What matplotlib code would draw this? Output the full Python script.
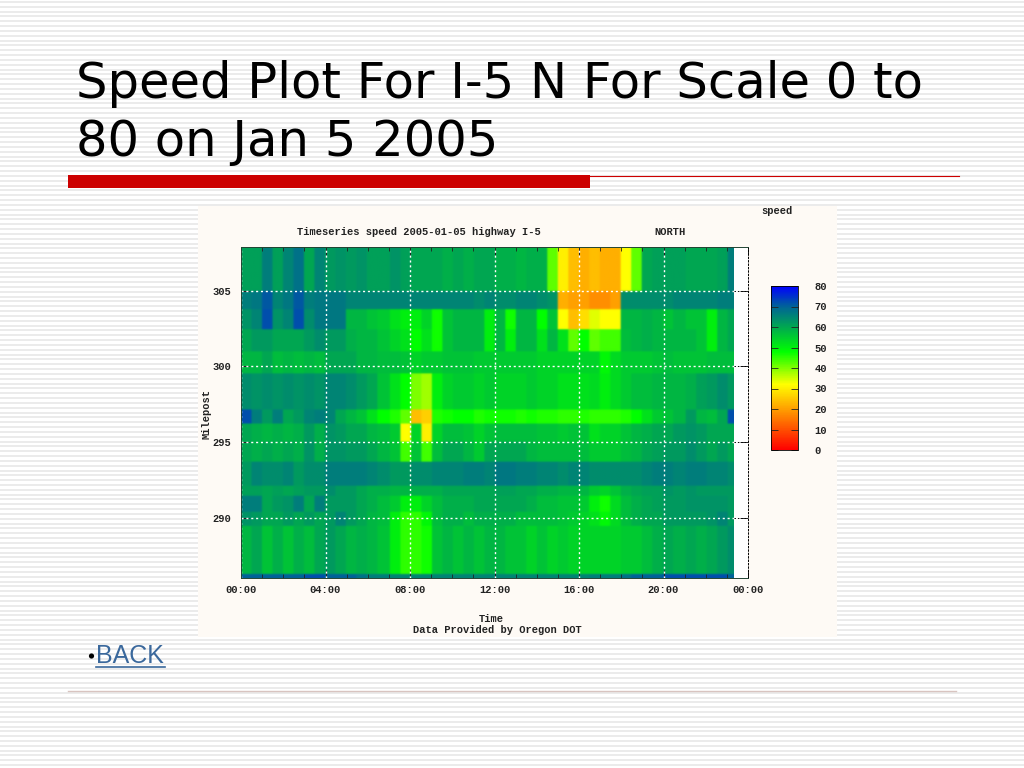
import numpy as np
import matplotlib
matplotlib.use('Agg')
import matplotlib.pyplot as plt
from matplotlib.colors import LinearSegmentedColormap
from matplotlib.patches import Rectangle, Circle

OUTPUT_FILE = 'out.png'

TITLE_LINES = ['Speed Plot For I-5 N For Scale 0 to', '80 on Jan 5 2005']
TIME_LABELS = ['00:00', '04:00', '08:00', '12:00', '16:00', '20:00', '00:00']
TIME_TICKS = [0, 4, 8, 12, 16, 20, 24]
MILE_TICKS = [305, 300, 295, 290]
SCALE_TICKS = [0, 10, 20, 30, 40, 50, 60, 70, 80]

# half hour columns, the last one stops at 23:20
TIME_EDGES = [i * 0.5 for i in range(47)] + [23.33]
MILE_EDGES = [307.9, 305.0, 303.8, 302.4, 301.0, 299.6, 297.2, 296.2, 295.0,
              293.7, 292.1, 291.4, 290.4, 289.5, 286.2, 286.0]

row_0 = [61, 61, 66, 61, 65, 68, 60, 65, 62, 63, 62, 63, 61, 61, 63, 61, 60, 60, 60, 59, 60, 59, 60, 60,
         59, 59, 58, 59, 59, 42, 30, 24, 22, 24, 22, 22, 32, 42, 60, 61, 61, 61, 60, 60, 60, 61, 66]
row_1 = [66, 67, 71, 65, 67, 71, 66, 67, 67, 67, 65, 65, 65, 65, 65, 65, 65, 65, 65, 65, 65, 65, 64, 65,
         64, 64, 65, 65, 64, 63, 22, 20, 20, 18, 18, 20, 64, 64, 64, 64, 64, 65, 65, 65, 65, 66, 66]
row_2 = [63, 65, 72, 63, 65, 72, 64, 67, 67, 67, 58, 58, 56, 55, 52, 50, 50, 54, 47, 56, 58, 58, 58, 50,
         58, 47, 58, 58, 48, 56, 32, 24, 28, 34, 32, 32, 58, 58, 59, 58, 56, 58, 56, 56, 50, 58, 60]
row_3 = [60, 62, 62, 60, 60, 60, 62, 64, 62, 62, 59, 58, 58, 56, 54, 52, 48, 52, 47, 56, 58, 58, 58, 50,
         58, 50, 58, 58, 52, 58, 52, 42, 48, 42, 44, 44, 57, 58, 59, 58, 58, 58, 58, 56, 50, 58, 60]
row_4 = [58, 58, 60, 57, 58, 57, 58, 57, 60, 60, 60, 58, 58, 57, 57, 56, 54, 55, 55, 56, 56, 56, 55, 55,
         55, 55, 55, 55, 54, 54, 54, 54, 54, 54, 49, 53, 55, 55, 55, 56, 57, 56, 56, 56, 57, 57, 57]
row_5 = [64, 63, 64, 63, 64, 63, 64, 63, 65, 65, 64, 62, 60, 56, 52, 48, 40, 38, 50, 54, 55, 55, 54, 55,
         54, 54, 54, 55, 54, 54, 52, 52, 52, 53, 50, 53, 55, 57, 57, 58, 58, 58, 59, 61, 62, 64, 62]
row_6 = [72, 66, 62, 66, 60, 62, 65, 66, 65, 60, 58, 56, 52, 48, 46, 42, 24, 26, 46, 47, 48, 48, 46, 47,
         47, 47, 46, 47, 46, 46, 45, 45, 46, 45, 45, 45, 46, 48, 52, 55, 56, 58, 62, 58, 57, 60, 72]
row_7 = [60, 59, 58, 59, 58, 59, 62, 59, 63, 62, 60, 60, 58, 57, 55, 32, 54, 30, 54, 57, 57, 56, 54, 56,
         57, 57, 57, 57, 56, 56, 55, 56, 56, 52, 54, 54, 56, 58, 59, 60, 60, 62, 63, 62, 60, 60, 60]
row_8 = [60, 59, 60, 59, 60, 59, 63, 59, 63, 63, 62, 62, 60, 58, 56, 44, 56, 44, 57, 60, 60, 58, 55, 60,
         60, 60, 60, 58, 57, 57, 57, 57, 57, 55, 55, 55, 57, 58, 60, 61, 62, 62, 64, 62, 60, 62, 60]
row_9 = [62, 65, 64, 64, 65, 62, 64, 64, 66, 66, 66, 66, 65, 64, 62, 62, 64, 64, 65, 65, 65, 66, 66, 65,
         67, 67, 66, 66, 65, 65, 64, 65, 65, 64, 64, 64, 64, 64, 65, 66, 66, 65, 66, 66, 65, 65, 64]
row_10 = [61, 61, 60, 61, 60, 61, 62, 62, 64, 62, 62, 60, 59, 59, 58, 58, 59, 59, 59, 60, 60, 60, 60, 60,
          61, 61, 60, 60, 59, 59, 58, 58, 58, 55, 54, 56, 59, 60, 61, 61, 63, 62, 63, 62, 62, 62, 62]
row_11 = [66, 66, 60, 62, 63, 66, 60, 66, 62, 62, 62, 60, 59, 57, 55, 50, 50, 54, 57, 59, 59, 59, 60, 60,
          60, 60, 60, 59, 57, 57, 56, 56, 55, 50, 47, 53, 57, 59, 60, 61, 62, 62, 63, 63, 63, 63, 62]
row_12 = [63, 62, 60, 60, 62, 60, 62, 60, 62, 65, 62, 60, 58, 57, 50, 45, 45, 49, 57, 59, 59, 57, 59, 59,
          59, 59, 57, 57, 57, 57, 56, 55, 54, 52, 49, 53, 57, 59, 60, 60, 62, 62, 62, 62, 63, 65, 62]
row_13 = [58, 60, 56, 59, 56, 59, 57, 60, 62, 60, 58, 59, 58, 56, 50, 45, 45, 47, 56, 58, 56, 58, 56, 58,
          58, 56, 56, 54, 56, 54, 55, 54, 54, 54, 54, 54, 55, 55, 57, 59, 60, 59, 60, 59, 60, 62, 64]
row_14 = [70, 70, 70, 70, 70, 70, 72, 72, 70, 70, 70, 68, 66, 66, 65, 65, 65, 65, 65, 65, 65, 65, 65, 65,
          65, 65, 65, 65, 65, 65, 65, 65, 65, 66, 66, 66, 68, 70, 70, 70, 72, 72, 72, 72, 72, 72, 70]

speed_rows = [row_0, row_1, row_2, row_3, row_4, row_5, row_6, row_7, row_8, row_9,
              row_10, row_11, row_12, row_13, row_14]

BG_IMAGE = '#fefaf5'
MONO = {'family': 'Liberation Mono', 'weight': 'bold', 'color': '#222222'}
MONO_SIZE = 7.5
DOTS = (0, (1.5, 2))


def make_axes_box(x0, y0, x1, y1):
    # pixel box of the 1024x768 slide to figure fractions
    return [x0 / 1024, 1 - y1 / 768, (x1 - x0) / 1024, (y1 - y0) / 768]


def draw_slide(fig):
    bg = fig.add_axes([0, 0, 1, 1])
    bg.set_xlim(0, 1024)
    bg.set_ylim(768, 0)
    bg.axis('off')

    # striped slide background
    bg.hlines(np.arange(2, 768, 4.83), 0, 1024, color='#e6e6e6', lw=1.1, zorder=0)

    bg.text(76, 98, TITLE_LINES[0], fontsize=35.7, family='DejaVu Sans', color='black', va='baseline')
    bg.text(76, 156, TITLE_LINES[1], fontsize=35.7, family='DejaVu Sans', color='black', va='baseline')

    bg.add_patch(Rectangle((68, 175), 522, 13, color='#cc0000', lw=0, zorder=2))
    bg.plot([590, 959], [175.5, 175.5], color='#cc0000', lw=0.8, zorder=2)
    bg.plot([68, 956], [691, 691], color='#d8c4c0', lw=1, zorder=2)

    bg.add_patch(Rectangle((198, 206), 639, 431, color=BG_IMAGE, lw=0, zorder=1))

    bg.add_patch(Circle((91.5, 656), 2.6, color='black', lw=0, zorder=3))
    bg.text(96, 656, 'BACK', fontsize=18, family='Liberation Sans', color='#3a689c', va='center', zorder=3)
    bg.plot([96, 165], [667, 667], color='#3a689c', lw=1.2, zorder=3)

    bg.text(418.5, 232, 'Timeseries speed 2005-01-05 highway I-5', fontsize=MONO_SIZE, ha='center', va='center', zorder=3, **MONO)
    bg.text(670, 232, 'NORTH', fontsize=MONO_SIZE, ha='center', va='center', zorder=3, **MONO)
    bg.text(777, 211, 'speed', fontsize=MONO_SIZE, ha='center', va='center', zorder=3, **MONO)
    bg.text(207, 414, 'Milepost', fontsize=MONO_SIZE, rotation=90, ha='center', va='center', zorder=3, **MONO)
    bg.text(491, 619, 'Time', fontsize=MONO_SIZE, ha='center', va='center', zorder=3, **MONO)
    bg.text(497, 630, 'Data Provided by Oregon DOT', fontsize=MONO_SIZE, ha='center', va='center', zorder=3, **MONO)


def fine_grid():
    # repeat the cells onto a small regular grid so imshow can soften the edges
    speeds = np.array(speed_rows)
    xs = (np.arange(235) + 0.5) * TIME_EDGES[-1] / 235
    ys = MILE_EDGES[0] - (np.arange(165) + 0.5) * (MILE_EDGES[0] - MILE_EDGES[-1]) / 165
    cols = np.searchsorted(TIME_EDGES, xs) - 1
    rows = np.searchsorted(-np.array(MILE_EDGES), -ys) - 1
    return speeds[np.ix_(rows, cols)]


def plot_speed_chart():
    fig = plt.figure(figsize=(10.24, 7.68), dpi=100)
    draw_slide(fig)

    cmap = LinearSegmentedColormap.from_list('speed', [
        (0.0, '#ff0000'), (0.4, '#ffff00'), (0.6, '#00ff00'),
        (0.75, '#00a850'), (0.875, '#006496'), (1.0, '#0000ff')])

    ax = fig.add_axes(make_axes_box(241, 247, 748, 578))
    ax.set_facecolor('white')
    image = ax.imshow(fine_grid(), cmap=cmap, vmin=0, vmax=80, aspect='auto',
                      extent=(0, TIME_EDGES[-1], MILE_EDGES[-1], MILE_EDGES[0]),
                      interpolation='gaussian', interpolation_stage='rgba')
    ax.set_xlim(0, 24)
    ax.set_ylim(286.0, 307.9)

    # white dots over the data, black dots over the empty strip on the right
    ax.hlines(MILE_TICKS, 0, 23.33, color='white', lw=1.0, linestyles=DOTS)
    ax.vlines(TIME_TICKS[:-1], 286.0, 307.9, color='white', lw=1.0, linestyles=DOTS)
    ax.hlines(MILE_TICKS, 23.33, 24, color='black', lw=0.7, linestyles=DOTS)

    ax.set_xticks(TIME_TICKS)
    ax.set_xticklabels(TIME_LABELS, fontsize=MONO_SIZE, **MONO)
    ax.set_xticks(range(25), minor=True)
    ax.set_yticks(MILE_TICKS)
    ax.set_yticklabels([str(m) for m in MILE_TICKS], fontsize=MONO_SIZE, **MONO)
    ax.tick_params(axis='x', which='major', direction='in', length=6, width=0.7, top=True, color='#222222', pad=5)
    ax.tick_params(axis='x', which='minor', direction='in', length=3, width=0.6, top=True, color='#222222')
    ax.tick_params(axis='y', which='major', direction='in', length=6, width=0.7, right=True, color='#222222', pad=7)

    for side in ['top', 'bottom', 'left']:
        ax.spines[side].set_linewidth(0.7)
        ax.spines[side].set_color('#224433')
    ax.spines['right'].set_linewidth(0.7)
    ax.spines['right'].set_linestyle(DOTS)

    cax = fig.add_axes(make_axes_box(771, 286, 798, 450))
    cbar = fig.colorbar(image, cax=cax)
    cbar.set_ticks(SCALE_TICKS)
    cbar.set_ticklabels([str(s) for s in SCALE_TICKS], fontsize=MONO_SIZE, **MONO)
    cax.tick_params(direction='in', length=5, width=0.6, left=True, right=True, pad=12, color='#222222')
    cbar.outline.set_linewidth(0.6)

    fig.savefig(OUTPUT_FILE, dpi=100)
    plt.close(fig)


if __name__ == '__main__':
    plot_speed_chart()
